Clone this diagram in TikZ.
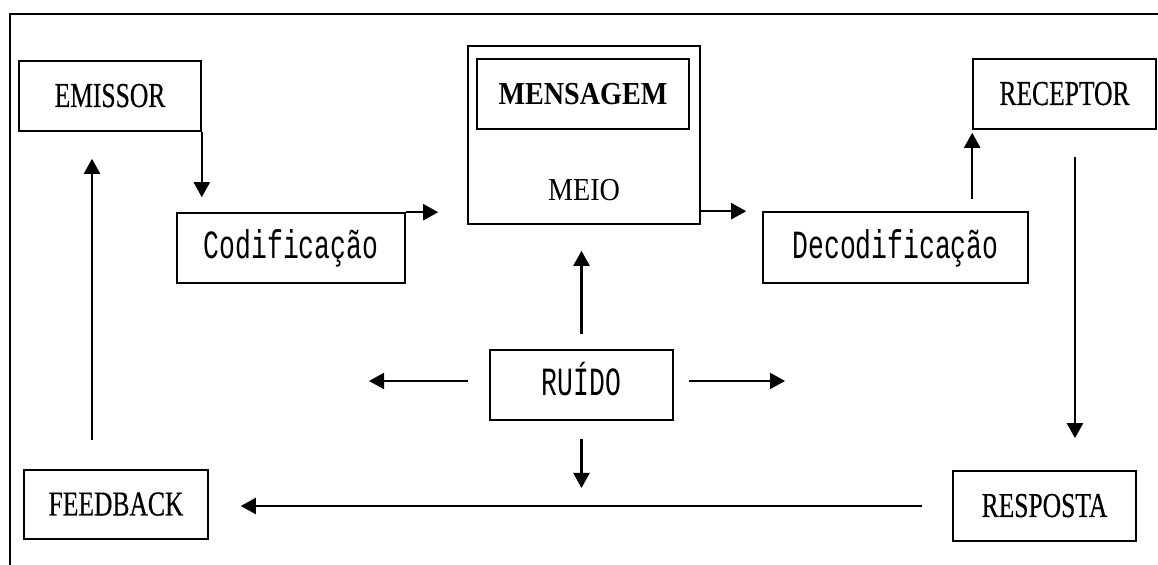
\documentclass[tikz,border=0pt]{standalone}
\usepackage{fontspec}
\usetikzlibrary{arrows.meta}
\newfontfamily\boxcaps[FakeStretch=0.73, FakeBold=0.4]{Liberation Serif}
\newfontfamily\boxmono[FakeStretch=0.66]{Liberation Mono}
\newfontfamily\boxserif[FakeStretch=0.88]{Liberation Serif}
\begin{document}
\begin{tikzpicture}[x=0.5pt, y=-0.5pt, >={Triangle[length=7.5pt, width=8pt]},
  box/.style={draw, line width=0.8pt, inner sep=0pt, minimum width=91.5pt, minimum height=35pt, text height=11pt, text depth=0pt},
  caps/.style={box, font=\boxcaps\fontsize{17.5}{20}\selectfont},
  mono/.style={box, font=\boxmono\fontsize{20}{24}\selectfont},
  flow/.style={->, line width=1.1pt}]
  \useasboundingbox (0,0) rectangle (1158,565);
  \draw[line width=0.8pt] (10,565) -- (10,14) -- (1158,14);

  % top row
  \node[caps, minimum width=91pt] (emissor) at (110,96) {EMISSOR};
  \node[mono, minimum width=114pt] (codif) at (291,248) {Codificação};
  \node[box, minimum width=116pt, minimum height=89pt] (meio) at (584,135) {};
  \node[box, minimum width=106pt, text height=10.5pt, font=\boxserif\bfseries\fontsize{16}{19}\selectfont] (mensagem) at (583,94) {MENSAGEM};
  \node[inner sep=0pt, text height=10.5pt, text depth=0pt, font=\boxserif\fontsize{16}{19}\selectfont] (meiolabel) at (584,190) {MEIO};
  \node[mono, minimum width=132.5pt, minimum height=35.5pt] (decod) at (895.5,247.5) {Decodificação};
  \node[caps] (receptor) at (1064.5,94) {RECEPTOR};

  % noise and bottom row
  \node[mono] (ruido) at (581.5,385) {RUÍDO};
  \node[caps, minimum width=92pt, minimum height=34.5pt] (feedback) at (116,504.5) {FEEDBACK};
  \node[caps] (resposta) at (1044.5,506) {RESPOSTA};
  \coordinate (noiseleft) at (369,381);
  \coordinate (noiseright) at (785,381);

  \draw[flow, shorten >=7.5pt] (emissor.south east) -- (emissor.south east |- codif.north);
  \draw[flow, shorten >=14.5pt] (codif.north east) -- (codif.north east -| meio.west);
  \draw[flow, shorten >=8pt] (meio.east |- decod.north) -- (decod.north west);
  \draw[flow, shorten <=6pt, shorten >=1.5pt] (receptor.south west |- decod.north) -- (receptor.south west);
  \draw[flow, shorten <=13.5pt, shorten >=16pt] ([xshift=5.25pt]receptor.south) -- ([xshift=5.25pt]receptor.south |- resposta.north);
  \draw[flow, shorten <=15pt, shorten >=16pt] (resposta.west) -- (resposta.west -| feedback.east);
  \draw[flow, shorten <=14.5pt, shorten >=13.5pt] ([xshift=-12pt]feedback.north) -- ([xshift=-12pt]feedback.north |- emissor.south);

  \draw[flow, shorten <=7.5pt, shorten >=13pt] (ruido.north) -- (ruido.north |- meio.south);
  \draw[flow, shorten <=9pt, shorten >=9pt] (ruido.south) -- (ruido.south |- resposta.west);
  \draw[flow] (ruido.west |- noiseleft) ++(-10.5pt,0) -- (noiseleft);
  \draw[flow] (ruido.east |- noiseright) ++(7.5pt,0) -- (noiseright);
\end{tikzpicture}
\end{document}
